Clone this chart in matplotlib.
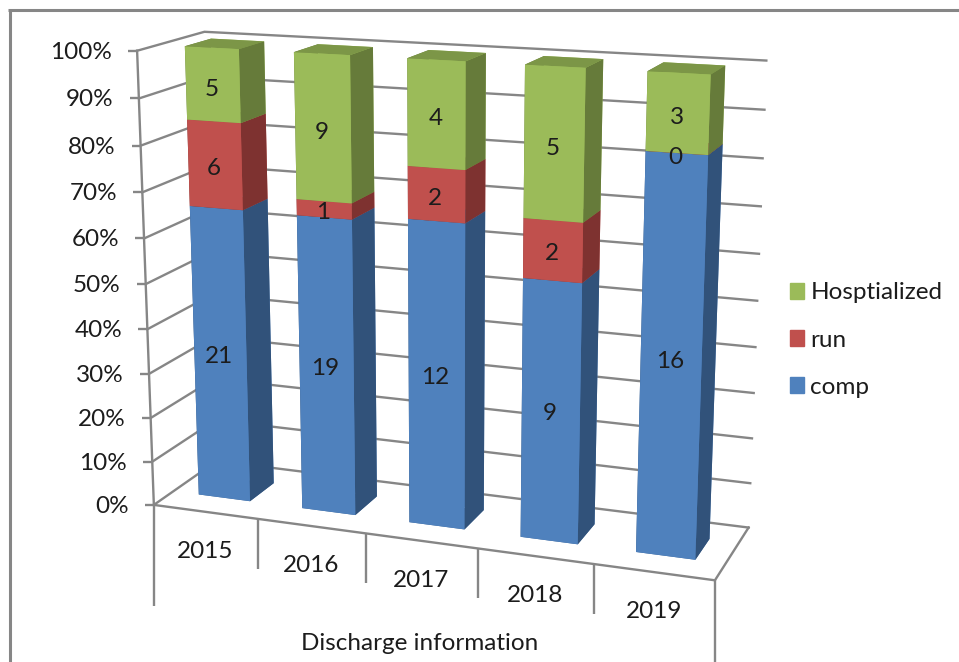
import numpy as np
import matplotlib
matplotlib.use('Agg')
import matplotlib.pyplot as plt
from matplotlib.lines import Line2D
from matplotlib.patches import Patch
from mpl_toolkits.mplot3d import proj3d

plt.rcParams['font.family'] = ['Lato', 'DejaVu Sans']

years = ['2015', '2016', '2017', '2018', '2019']
comp = np.array([21, 19, 12, 9, 16])
run = np.array([6, 1, 2, 2, 0])
hosp = np.array([5, 9, 4, 5, 3])
pct_ticks = np.arange(0, 101, 10)

W, H = 959, 662
grid_col = '#868686'
txt_col = '#1c1c1c'
fsize = 17.5
# front, side, top
blue = ['#4f81bd', '#31527a', '#3f6797']
red = ['#c0504d', '#7e3230', '#99403d']
green = ['#9bbb59', '#667b3a', '#7c9647']

fig = plt.figure(figsize=(W / 100, H / 100), dpi=100)
# camera fitted to the corners of the chart box
side = 754.6
ax = fig.add_axes([59.4 / W, (H - 679.8) / H, side / W, side / H], projection='3d')
ax.view_init(elev=14.622, azim=-69.884)
ax.set_proj_type('persp', focal_length=0.5223)
ax.set_box_aspect((1.2548, 0.3123, 1))
ax.set_xlim(0, 1)
ax.set_ylim(0, 1)
ax.set_zlim(0, 100)
ax.set_axis_off()
ax.computed_zorder = False
ax.apply_aspect()


def screen(x, y, z):
    # data point -> position in the picture, y going down
    u, v, _ = proj3d.proj_transform(x, y, z, ax.get_proj())
    px, py = ax.transData.transform((u, v))
    return px, H - py


def fig_line(xs, ys, lw=1.7):
    fig.add_artist(Line2D(np.array(xs) / W, 1 - np.array(ys) / H, transform=fig.transFigure,
                          color=grid_col, lw=lw, solid_capstyle='butt'))


def fig_text(x, y, s, **kw):
    fig.text(x / W, 1 - y / H, s, color=txt_col, fontsize=fsize, **kw)


# walls
for p in pct_ticks:
    ax.plot([0, 0, 1], [0, 1, 1], [p, p, p], color=grid_col, lw=1.7, zorder=1)
ax.plot([0, 0], [0, 0], [0, 100], color=grid_col, lw=1.7, zorder=1)
ax.plot([0, 1, 1], [0, 0, 1], [0, 0, 0], color=grid_col, lw=1.7, zorder=1)

# bars
n = len(years)
shares = np.array([comp, run, hosp]) / (comp + run + hosp) * 100
bar_w = 0.5 / n
y0, bar_d = 0.3, 0.4
xs, dz, bottoms, face_cols = [], [], [], []
for i in range(n):
    base = 0
    for k, cols in enumerate([blue, red, green]):
        xs.append((i + 0.25) / n)
        bottoms.append(base)
        dz.append(shares[k, i])
        base += shares[k, i]
        # bar3d face order: -z, +z, -y, +y, -x, +x
        face_cols += [cols[2], cols[2], cols[0], cols[0], cols[1], cols[1]]
ax.bar3d(xs, y0, bottoms, bar_w, bar_d, dz, color=face_cols, shade=False, lw=0, zorder=2)

# value labels on the front faces
for i in range(n):
    base = 0
    for k, vals in enumerate([comp, run, hosp]):
        px, py = screen((i + 0.5) / n, y0, (base + shares[k, i] / 2) * 0.99)
        fig_text(px - 1, py, str(vals[i]), ha='center', va='center')
        base += shares[k, i]

# value axis ticks and labels
for p in pct_ticks:
    px, py = screen(0, 0, p)
    fig_line([px - 9, px], [py, py])
    fig_text(px - 25, py + 1.5, '%d%%' % p, ha='right', va='center')

# category plate below the floor
for i in range(n + 1):
    px, py = screen(i / n, 0, 0)
    fig_line([px, px], [py, py + (101 if i in (0, n) else 50)])
for i, year in enumerate(years):
    px, py = screen((i + 0.5) / n, 0, 0)
    fig_text(px, py + 39.5, year, ha='center', va='center')
fig_text(420, 643, 'Discharge information', ha='center', va='center')

# outer frame, only top and left are in the crop
fig_line([9.5, 9.5], [H, 9.5], lw=2.2)
fig_line([8, W], [9.5, 9.5], lw=2.2)

handles = [Patch(color=green[0], label='Hosptialized'),
           Patch(color=red[0], label='run'),
           Patch(color=blue[0], label='comp')]
fig.legend(handles=handles, loc='center left', bbox_to_anchor=(768 / W, 1 - 340 / H),
           frameon=False, fontsize=fsize, labelcolor=txt_col, handlelength=0.59, handleheight=0.59,
           handletextpad=0.25, labelspacing=1.07)

fig.savefig('out.png', dpi=100)
